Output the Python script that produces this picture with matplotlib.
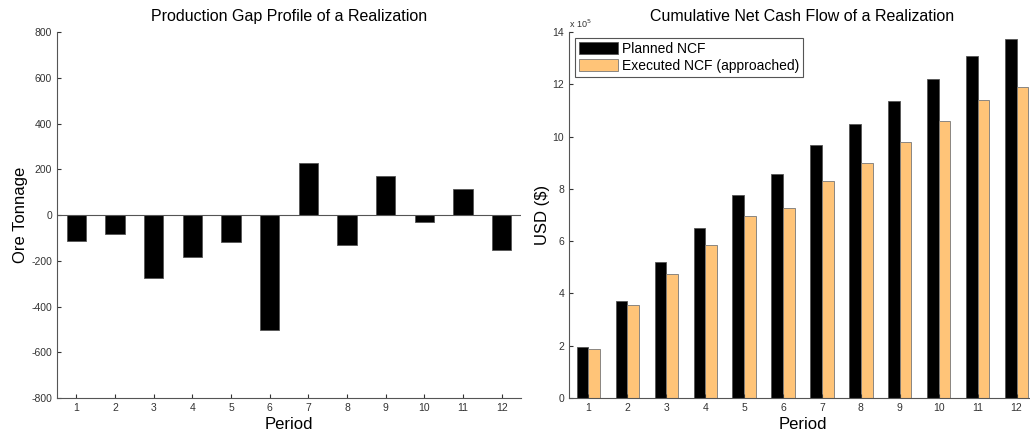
#! /usr/bin/env python3

import numpy as np
import matplotlib
matplotlib.use("Agg")
import matplotlib.pyplot as plt

plt.rcParams['font.family'] = ['Liberation Sans', 'DejaVu Sans']
plt.rcParams['axes.unicode_minus'] = False

periods = [1, 2, 3, 4, 5, 6, 7, 8, 9, 10, 11, 12]
# production gap per period (ore tonnage)
gap = [-114, -83, -277, -185, -117, -502, 226, -131, 169, -32, 112, -153]
# cumulative NCF in units of 1e5 USD
planned = [1.97, 3.73, 5.20, 6.51, 7.76, 8.56, 9.67, 10.50, 11.37, 12.21, 13.09, 13.73]
executed = [1.87, 3.56, 4.73, 5.85, 6.97, 7.28, 8.30, 9.00, 9.78, 10.58, 11.41, 11.90]

fig = plt.figure(figsize=(10.3, 4.37), dpi=100)

def style(ax):
    ax.spines['top'].set_visible(False)
    ax.spines['right'].set_visible(False)
    ax.spines['left'].set_color('#555555')
    ax.spines['bottom'].set_color('#555555')
    ax.tick_params(direction='in', length=3, labelsize=7.5, colors='#333333')
    ax.set_xticks(periods)
    ax.set_xlim(0.5, 12.5)

# left: production gap
ax1 = fig.add_axes([0.0553, 0.0892, 0.4505, 0.8375])
x = np.array(periods)
ax1.bar(x, gap, width=0.5, color='black', edgecolor='#555555', linewidth=0.6)
ax1.axhline(0, color='#555555', linewidth=0.8)
ax1.set_ylim(-800, 800)
ax1.set_yticks(range(-800, 801, 200))
style(ax1)
ax1.set_title('Production Gap Profile of a Realization', fontsize=11.5, pad=8)
ax1.set_xlabel('Period', fontsize=12, labelpad=3)
ax1.set_ylabel('Ore Tonnage', fontsize=12, labelpad=2)

# right: cumulative net cash flow
ax2 = fig.add_axes([0.5524, 0.0892, 0.4534, 0.8375])
w = 0.3
ax2.bar(x - w / 2, planned, width=w, color='black', edgecolor='#555555',
        linewidth=0.6, label='Planned NCF')
ax2.bar(x + w / 2, executed, width=w, color='#FFC478', edgecolor='#777777',
        linewidth=0.6, label='Executed NCF (approached)')
ax2.set_ylim(0, 14)
ax2.set_yticks(range(0, 15, 2))
style(ax2)
ax2.text(0.0, 1.005, r'x 10$^5$', transform=ax2.transAxes, fontsize=6.5,
         ha='left', va='bottom', color='#333333')
ax2.set_title('Cumulative Net Cash Flow of a Realization', fontsize=11.5, pad=8)
ax2.set_xlabel('Period', fontsize=12, labelpad=3)
ax2.set_ylabel('USD ($)', fontsize=12, labelpad=2)
leg = ax2.legend(loc='upper left', fontsize=10, fancybox=False, framealpha=1,
                 edgecolor='#555555', handlelength=2.8, handleheight=1.0,
                 borderaxespad=0.4, borderpad=0.3, labelspacing=0.2,
                 handletextpad=0.3)
leg.get_frame().set_linewidth(0.8)

fig.savefig('out.png', dpi=100)
